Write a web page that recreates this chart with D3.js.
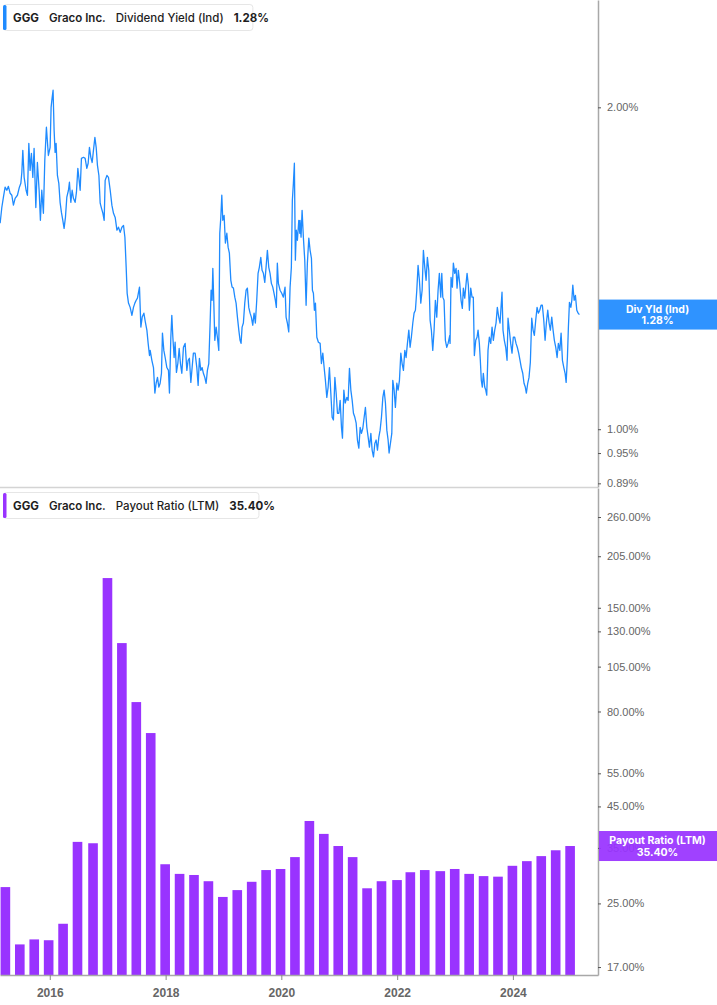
<!DOCTYPE html>
<html>
<head>
<meta charset="utf-8">
<script src="https://cdn.jsdelivr.net/npm/d3@7"></script>
<style>
  body { margin: 0; background: #fff; }
  svg { display: block; font-family: Inter, "Noto Sans", sans-serif; }
</style>
</head>
<body>
<div id="chart"></div>
<script>
// Dividend yield (Ind). Times are decimal years, values are percent
var yieldTimes = [
  2015.142, 2015.171, 2015.199, 2015.228, 2015.258, 2015.285, 2015.315, 2015.344, 2015.372, 2015.401,
  2015.441, 2015.475, 2015.500, 2015.517, 2015.534, 2015.557, 2015.591, 2015.614, 2015.638, 2015.660,
  2015.683, 2015.707, 2015.729, 2015.759, 2015.786, 2015.816, 2015.838, 2015.862, 2015.890, 2015.914,
  2015.942, 2015.976, 2016.006, 2016.023, 2016.040, 2016.057, 2016.075, 2016.092, 2016.109, 2016.132,
  2016.156, 2016.178, 2016.201, 2016.225, 2016.247, 2016.270, 2016.294, 2016.322, 2016.339, 2016.363,
  2016.386, 2016.408, 2016.437, 2016.460, 2016.484, 2016.501, 2016.524, 2016.546, 2016.581, 2016.610,
  2016.639, 2016.662, 2016.684, 2016.708, 2016.731, 2016.753, 2016.778, 2016.800, 2016.822, 2016.847,
  2016.869, 2016.892, 2016.916, 2016.938, 2016.955, 2016.985, 2017.012, 2017.042, 2017.071, 2017.099,
  2017.128, 2017.158, 2017.185, 2017.215, 2017.244, 2017.272, 2017.296, 2017.318, 2017.335, 2017.358,
  2017.387, 2017.417, 2017.444, 2017.468, 2017.491, 2017.513, 2017.548, 2017.572, 2017.595, 2017.624,
  2017.652, 2017.676, 2017.698, 2017.721,
  2017.733, 2017.762, 2017.790, 2017.814, 2017.836, 2017.859, 2017.883, 2017.905, 2017.928, 2017.945,
  2017.969, 2017.992, 2018.021, 2018.049, 2018.066, 2018.090, 2018.107, 2018.125, 2018.147, 2018.164,
  2018.187, 2018.211, 2018.234, 2018.256, 2018.280, 2018.308, 2018.337, 2018.367, 2018.389, 2018.411,
  2018.436, 2018.458, 2018.480, 2018.510, 2018.539, 2018.562, 2018.584, 2018.608, 2018.631, 2018.653,
  2018.677, 2018.700, 2018.722, 2018.746, 2018.769, 2018.786, 2018.803, 2018.816, 2018.833, 2018.850,
  2018.873, 2018.895, 2018.919, 2018.936, 2018.954, 2018.971, 2018.988, 2019.011, 2019.033, 2019.058,
  2019.080, 2019.102, 2019.127, 2019.149, 2019.172, 2019.196, 2019.218, 2019.241, 2019.265, 2019.287,
  2019.304, 2019.322, 2019.344, 2019.368, 2019.391, 2019.413, 2019.437, 2019.460, 2019.482, 2019.506,
  2019.529, 2019.551, 2019.575, 2019.598, 2019.620, 2019.645, 2019.667, 2019.690, 2019.714, 2019.736,
  2019.759, 2019.783, 2019.805, 2019.828, 2019.852, 2019.874, 2019.897, 2019.914, 2019.931, 2019.949,
  2019.978, 2020.007, 2020.035, 2020.064, 2020.082, 2020.104, 2020.128, 2020.151, 2020.173, 2020.190,
  2020.208, 2020.225, 2020.242, 2020.259, 2020.277, 2020.301, 2020.318,
  2020.323, 2020.340, 2020.358, 2020.380, 2020.404, 2020.427, 2020.449, 2020.474, 2020.496, 2020.519,
  2020.536, 2020.553, 2020.570, 2020.588, 2020.612, 2020.639, 2020.669, 2020.691, 2020.715, 2020.738,
  2020.760, 2020.784, 2020.807, 2020.829, 2020.853, 2020.876, 2020.898, 2020.923, 2020.945, 2020.968,
  2020.992, 2021.014, 2021.037, 2021.054, 2021.078, 2021.101, 2021.130, 2021.152, 2021.175, 2021.199,
  2021.222, 2021.244, 2021.268, 2021.291, 2021.313, 2021.337, 2021.360, 2021.382, 2021.406, 2021.429,
  2021.451, 2021.475, 2021.498, 2021.520, 2021.545, 2021.567, 2021.590, 2021.614, 2021.636, 2021.659,
  2021.683, 2021.705, 2021.728, 2021.752, 2021.774, 2021.797, 2021.821, 2021.843, 2021.860, 2021.883,
  2021.907, 2021.924, 2021.947, 2021.969, 2021.994, 2022.016, 2022.039, 2022.063, 2022.085, 2022.108,
  2022.132, 2022.154, 2022.177, 2022.201, 2022.223, 2022.245, 2022.270, 2022.292, 2022.315, 2022.339,
  2022.361, 2022.384, 2022.408, 2022.431, 2022.453, 2022.477, 2022.500, 2022.522, 2022.546, 2022.569,
  2022.591, 2022.615, 2022.638, 2022.660, 2022.684, 2022.707, 2022.729, 2022.753, 2022.771, 2022.788,
  2022.810, 2022.833, 2022.857, 2022.880, 2022.909,
  2022.914, 2022.931, 2022.954, 2022.971, 2022.995, 2023.018, 2023.035, 2023.057, 2023.081, 2023.104,
  2023.126, 2023.144, 2023.168, 2023.191, 2023.208, 2023.230, 2023.248, 2023.271, 2023.294, 2023.316,
  2023.334, 2023.358, 2023.380, 2023.398, 2023.420, 2023.437, 2023.454, 2023.472, 2023.489, 2023.513,
  2023.531, 2023.548, 2023.570, 2023.593, 2023.617, 2023.640, 2023.662, 2023.686, 2023.709, 2023.731,
  2023.755, 2023.778, 2023.795, 2023.812, 2023.829, 2023.852, 2023.876, 2023.899, 2023.916, 2023.938,
  2023.962, 2023.985, 2024.007, 2024.031, 2024.054, 2024.076, 2024.100, 2024.123, 2024.145, 2024.170,
  2024.192, 2024.214, 2024.232, 2024.256, 2024.278, 2024.301, 2024.325, 2024.348, 2024.370, 2024.394,
  2024.417, 2024.439, 2024.463, 2024.486, 2024.508, 2024.532, 2024.555, 2024.577, 2024.601, 2024.624,
  2024.646, 2024.670, 2024.693, 2024.715, 2024.739, 2024.762, 2024.784, 2024.809, 2024.831, 2024.854,
  2024.878, 2024.900, 2024.918, 2024.940, 2024.957, 2024.975, 2024.999, 2025.016, 2025.033, 2025.056,
  2025.078, 2025.102, 2025.125, 2025.147
];
var yieldValues = [
  1.558, 1.612, 1.648, 1.684, 1.673, 1.687, 1.662, 1.655, 1.620, 1.644,
  1.655, 1.684, 1.698, 1.738, 1.823, 1.720, 1.673, 1.655, 1.851, 1.746,
  1.811, 1.720, 1.831, 1.612, 1.776, 1.673, 1.568, 1.673, 1.592, 1.784,
  1.916, 1.803, 1.835, 2.000, 2.040, 2.075, 1.903, 1.815, 1.851, 1.727,
  1.698, 1.630, 1.595, 1.568, 1.541, 1.578, 1.648, 1.673, 1.702, 1.630,
  1.673, 1.644, 1.630, 1.666, 1.754, 1.720, 1.673, 1.792, 1.796, 1.792,
  1.754, 1.773, 1.835, 1.796, 1.776, 1.823, 1.875, 1.835, 1.765, 1.727,
  1.627, 1.609, 1.592, 1.568, 1.709, 1.727, 1.720, 1.673, 1.620, 1.592,
  1.578, 1.535, 1.545, 1.528, 1.545, 1.551, 1.512, 1.417, 1.340, 1.312,
  1.300, 1.278, 1.300, 1.312, 1.320, 1.326, 1.358, 1.246, 1.273, 1.284,
  1.257, 1.238, 1.203, 1.172,
  1.185, 1.160, 1.142, 1.081, 1.104, 1.118, 1.095, 1.104, 1.128, 1.230,
  1.185, 1.167, 1.142, 1.135, 1.081, 1.219, 1.278, 1.219, 1.167, 1.206,
  1.130, 1.152, 1.190, 1.152, 1.128, 1.193, 1.203, 1.135, 1.160, 1.165,
  1.106, 1.142, 1.178, 1.178, 1.142, 1.099, 1.165, 1.135, 1.142, 1.128,
  1.118, 1.104, 1.135, 1.152, 1.257, 1.349, 1.320, 1.414, 1.312, 1.211,
  1.246, 1.219, 1.185, 1.525, 1.578, 1.655, 1.568, 1.585, 1.493, 1.525,
  1.480, 1.461, 1.378, 1.358, 1.355, 1.329, 1.312, 1.273, 1.238, 1.211,
  1.203, 1.246, 1.257, 1.312, 1.349, 1.355, 1.300, 1.284, 1.273, 1.251,
  1.284, 1.257, 1.320, 1.399, 1.417, 1.448, 1.408, 1.399, 1.372, 1.417,
  1.470, 1.417, 1.399, 1.369, 1.358, 1.340, 1.320, 1.300, 1.430, 1.369,
  1.349, 1.340, 1.329, 1.358, 1.273, 1.257, 1.233, 1.358, 1.417, 1.637,
  1.698, 1.773, 1.439, 1.535, 1.502, 1.568, 1.525,
  1.568, 1.512, 1.602, 1.512, 1.439, 1.306, 1.430, 1.509, 1.470, 1.445,
  1.349, 1.340, 1.292, 1.312, 1.219, 1.206, 1.203, 1.152, 1.178, 1.142,
  1.111, 1.071, 1.095, 1.142, 1.081, 1.026, 1.020, 1.118, 1.081, 1.035,
  1.035, 1.064, 1.004, 0.981, 1.088, 1.058, 1.071, 1.064, 1.140, 1.088,
  1.064, 1.035, 1.026, 1.013, 0.977, 0.960, 1.004, 0.991, 1.002, 1.026,
  1.048, 1.004, 0.983, 0.962, 0.991, 0.956, 0.942, 0.970, 0.977, 0.956,
  0.983, 0.998, 1.026, 1.071, 1.088, 1.058, 0.998, 0.977, 0.950, 0.970,
  0.991, 1.111, 1.088, 1.048, 1.104, 1.088, 1.111, 1.178, 1.152, 1.135,
  1.185, 1.167, 1.203, 1.238, 1.193, 1.219, 1.257, 1.284, 1.292, 1.349,
  1.423, 1.378, 1.312, 1.349, 1.470, 1.417, 1.378, 1.448, 1.408, 1.265,
  1.238, 1.185, 1.238, 1.320, 1.273, 1.349, 1.399, 1.329, 1.399, 1.329,
  1.320, 1.211, 1.193, 1.203, 1.224,
  1.203, 1.387, 1.358, 1.430, 1.399, 1.414, 1.355, 1.408, 1.369, 1.320,
  1.297, 1.355, 1.326, 1.369, 1.399, 1.364, 1.292, 1.355, 1.329, 1.329,
  1.172, 1.211, 1.219, 1.238, 1.203, 1.160, 1.111, 1.095, 1.128, 1.095,
  1.088, 1.076, 1.185, 1.219, 1.203, 1.246, 1.211, 1.238, 1.257, 1.300,
  1.273, 1.257, 1.300, 1.343, 1.238, 1.211, 1.193, 1.160, 1.270, 1.238,
  1.203, 1.178, 1.219, 1.219, 1.203, 1.193, 1.178, 1.160, 1.142, 1.128,
  1.104, 1.095, 1.081, 1.104, 1.118, 1.155, 1.270, 1.238, 1.224, 1.265,
  1.300, 1.284, 1.292, 1.306, 1.306, 1.265, 1.211, 1.257, 1.292, 1.257,
  1.238, 1.273, 1.238, 1.211, 1.193, 1.167, 1.203, 1.185, 1.230, 1.160,
  1.142, 1.128, 1.106, 1.167, 1.246, 1.314, 1.300, 1.320, 1.364, 1.320,
  1.334, 1.292, 1.284, 1.280
];

// Payout ratio (LTM), one bar per fiscal quarter
var payoutDates = [
  "2015-03-27", "2015-06-26", "2015-09-25", "2015-12-25",
  "2016-03-25", "2016-06-24", "2016-09-30", "2016-12-30",
  "2017-03-31", "2017-06-30", "2017-09-29", "2017-12-29",
  "2018-03-30", "2018-06-29", "2018-09-28", "2018-12-28",
  "2019-03-29", "2019-06-28", "2019-09-27", "2019-12-27",
  "2020-03-27", "2020-06-26", "2020-09-25", "2020-12-25",
  "2021-03-26", "2021-06-25", "2021-09-24", "2021-12-31",
  "2022-03-25", "2022-06-24", "2022-09-30", "2022-12-30",
  "2023-03-31", "2023-06-30", "2023-09-29", "2023-12-29",
  "2024-03-29", "2024-06-28", "2024-09-27", "2024-12-27"
];
var payoutValues = [
  27.6, 19.5, 20.1, 20.0, 22.1, 36.3, 36.0, 179.6, 121.1, 84.7,
  70.2, 31.7, 29.9, 29.7, 28.6, 26.0, 27.1, 28.5, 30.6, 30.8,
  33.1, 41.2, 38.1, 35.4, 33.1, 27.4, 28.6, 28.8, 30.2, 30.6,
  30.4, 30.8, 29.9, 29.5, 29.4, 31.4, 32.3, 33.3, 34.5, 35.4
];

// Tick labels shown on the axes
var yieldTicks = [2.00, 1.00, 0.95, 0.89];
var payoutTicks = [260, 205, 150, 130, 105, 80, 55, 45, 35, 25, 17];
var yearTicks = [2016, 2018, 2020, 2022, 2024];

var svgWidth = 717;
var svgHeight = 1005;
var plotRight = 598;

var blue = "#1f8bff";
var purple = "#9933ff";

function decimalToDate(t) {
  var year = Math.floor(t);
  var start = new Date(year, 0, 1);
  var end = new Date(year + 1, 0, 1);
  return new Date(start.getTime() + (t - year) * (end - start));
}

var yieldData = yieldTimes.map(function(t, i) {
  return { date: decimalToDate(t), value: yieldValues[i] };
});
var payoutData = payoutDates.map(function(d, i) {
  return { date: d3.timeParse("%Y-%m-%d")(d), value: payoutValues[i] };
});

// Scales
var x = d3.scaleTime()
  .domain([new Date(2015, 1, 21), new Date(2025, 5, 21)])
  .range([0, plotRight]);
var yYield = d3.scaleLog().domain([0.883, 2.52]).range([487, 0]);
var yPayout = d3.scaleLog().domain([16.2, 310]).range([975, 488]);

var svg = d3.select("#chart")
  .append("svg")
    .attr("width", svgWidth)
    .attr("height", svgHeight);

var defs = svg.append("defs");
defs.append("clipPath").attr("id", "clip-top")
  .append("rect").attr("x", 0).attr("y", 0).attr("width", plotRight).attr("height", 487);
defs.append("clipPath").attr("id", "clip-bottom")
  .append("rect").attr("x", 0).attr("y", 488).attr("width", plotRight).attr("height", 487);

// Divider between the two panels
svg.append("line")
  .attr("x1", 0).attr("x2", plotRight)
  .attr("y1", 487.5).attr("y2", 487.5)
  .attr("stroke", "#d4d4d4")
  .attr("stroke-width", 1.5);

// Dividend yield line
var line = d3.line()
  .x(function(d) { return x(d.date); })
  .y(function(d) { return yYield(d.value); });

svg.append("path")
  .datum(yieldData)
  .attr("clip-path", "url(#clip-top)")
  .attr("fill", "none")
  .attr("stroke", blue)
  .attr("stroke-width", 1.3)
  .attr("stroke-linejoin", "round")
  .attr("d", line);

// Payout ratio bars
var quarterWidth = x(new Date(2016, 0, 1)) - x(new Date(2015, 9, 1));
var barWidth = quarterWidth * 0.66;

svg.append("g")
  .attr("clip-path", "url(#clip-bottom)")
  .selectAll("rect")
  .data(payoutData)
  .enter()
  .append("rect")
  .attr("x", function(d) { return x(d.date) - barWidth / 2; })
  .attr("width", barWidth)
  .attr("y", function(d) { return yPayout(d.value); })
  .attr("height", function(d) { return 975 - yPayout(d.value); })
  .attr("fill", purple);

// Right axes
function styleAxis(g) {
  g.select(".domain").attr("stroke", "#a8a8a8").attr("stroke-width", 1.5);
  g.selectAll(".tick line").attr("stroke", "#555");
  g.selectAll(".tick text")
    .attr("fill", "#666")
    .style("font-size", "11px");
}

var pctFormat = function(d) { return d3.format(".2f")(d) + "%"; };

svg.append("g")
  .attr("transform", "translate(" + plotRight + ",0)")
  .call(d3.axisRight(yYield).tickValues(yieldTicks).tickFormat(pctFormat)
    .tickSize(3).tickSizeOuter(0).tickPadding(6))
  .call(styleAxis);

svg.append("g")
  .attr("transform", "translate(" + plotRight + ",0)")
  .call(d3.axisRight(yPayout).tickValues(payoutTicks).tickFormat(pctFormat)
    .tickSize(3).tickSizeOuter(0).tickPadding(6))
  .call(styleAxis);

// Bottom time axis
var xAxis = svg.append("g")
  .attr("transform", "translate(0,975)")
  .call(d3.axisBottom(x)
    .tickValues(yearTicks.map(function(y) { return new Date(y, 0, 1); }))
    .tickFormat(d3.timeFormat("%Y"))
    .tickSize(5).tickSizeOuter(0).tickPadding(8));
xAxis.select(".domain").attr("stroke", "#a8a8a8").attr("stroke-width", 1.5);
xAxis.selectAll(".tick line").attr("stroke", "#888");
xAxis.selectAll(".tick text")
  .attr("fill", "#666")
  .style("font-size", "12px")
  .style("font-weight", "700");

// Last value labels on the right, two lines in one text
function lastValueLabel(yPos, color, title, value) {
  var g = svg.append("g");
  g.append("rect")
    .attr("x", plotRight + 1)
    .attr("y", yPos - 15)
    .attr("width", svgWidth - plotRight - 1)
    .attr("height", 30)
    .attr("fill", color)
    .attr("opacity", 0.93);
  var cx = (plotRight + svgWidth) / 2;
  var label = g.append("text")
    .attr("text-anchor", "middle")
    .attr("fill", "#fff")
    .style("font-size", "10.5px")
    .style("font-weight", "700");
  label.append("tspan").attr("x", cx).attr("y", yPos - 2).text(title);
  label.append("tspan").attr("x", cx).attr("y", yPos + 9.5).text(value);
}

lastValueLabel(yYield(yieldValues[yieldValues.length - 1]), blue, "Div Yld (Ind)", "1.28%");
lastValueLabel(yPayout(payoutValues[payoutValues.length - 1]), purple, "Payout Ratio (LTM)", "35.40%");

// Legend boxes at the top left of each panel
function legend(top, color, metric, value) {
  var g = svg.append("g");
  var box = g.append("rect")
    .attr("x", 3.5).attr("y", top + 0.5)
    .attr("height", 26)
    .attr("rx", 3)
    .attr("fill", "#fff")
    .attr("stroke", "#e6e6e6");
  g.append("rect")
    .attr("x", 3).attr("y", top + 1)
    .attr("width", 3.5).attr("height", 25)
    .attr("rx", 1.5)
    .attr("fill", color);
  var text = g.append("text")
    .attr("x", 13).attr("y", top + 17.5)
    .attr("fill", "#1e1e1e")
    .style("font-size", "11.5px");
  text.append("tspan").style("font-weight", "700").text("GGG");
  text.append("tspan").attr("dx", 10).style("font-weight", "600").text("Graco Inc.");
  text.append("tspan").attr("dx", 10).style("font-weight", "500").text(metric);
  text.append("tspan").attr("dx", 10).style("font-weight", "700").text(value);
  var w = text.node().getComputedTextLength();
  box.attr("width", 13 + w + 14 - 3.5);
}

legend(4, blue, "Dividend Yield (Ind)", "1.28%");
legend(492, purple, "Payout Ratio (LTM)", "35.40%");
</script>
</body>
</html>
